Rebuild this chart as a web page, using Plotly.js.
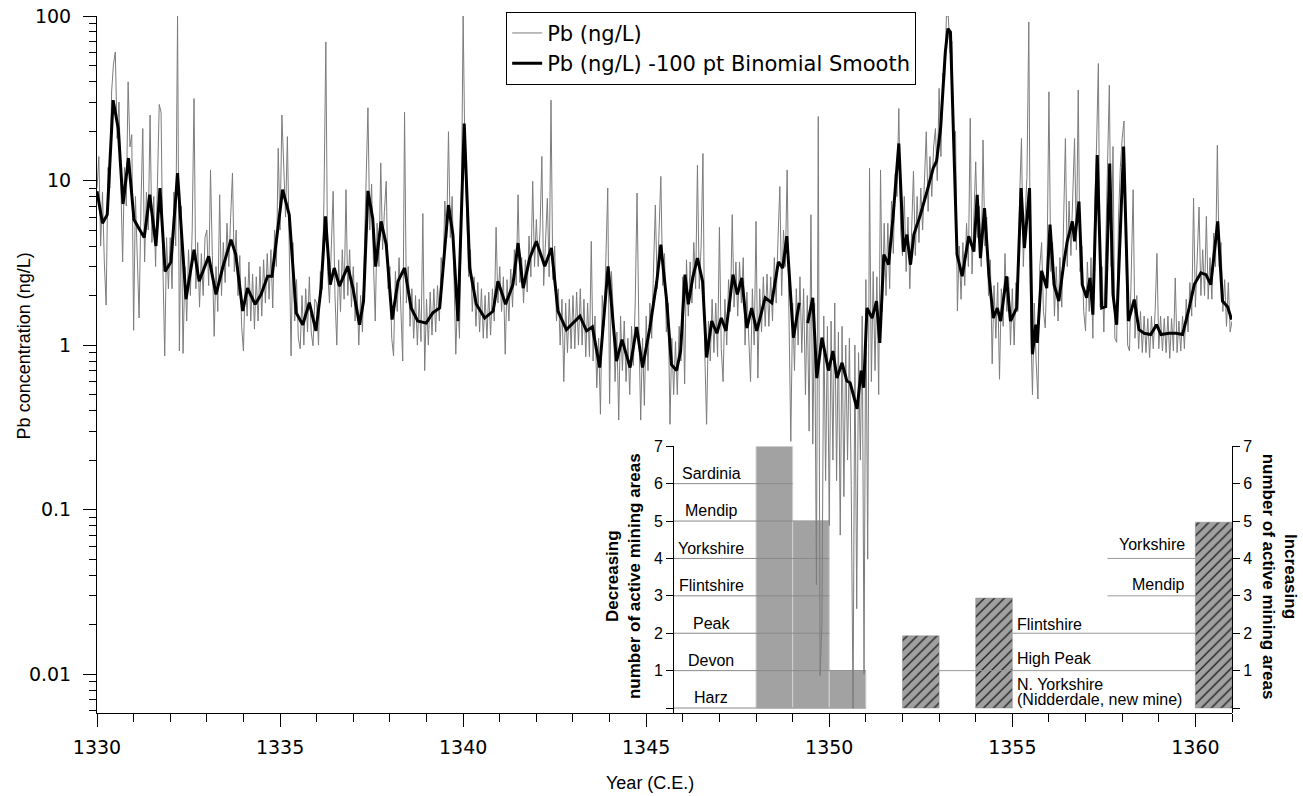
<!DOCTYPE html>
<html><head><meta charset="utf-8">
<script src="https://cdn.plot.ly/plotly-3.0.1.min.js"></script>
<style>html,body{margin:0;padding:0;background:#fff;} #chart{width:1303px;height:796px;}</style>
</head><body><div id="chart"></div>
<script>
// ---- Pb concentration, 100 pt binomial smooth ----
const smoothYears = [1330.0,1330.15,1330.28,1330.44,1330.58,1330.71,1330.86,1331.01,1331.15,1331.29,1331.44,1331.61,1331.72,1331.86,1332.02,1332.2,1332.43,1332.65,1332.79,1333.05,1333.25,1333.43,1333.66,1333.79,1333.98,1334.11,1334.32,1334.48,1334.66,1334.78,1335.07,1335.25,1335.44,1335.62,1335.8,1335.98,1336.12,1336.24,1336.37,1336.48,1336.62,1336.85,1336.99,1337.17,1337.28,1337.4,1337.53,1337.61,1337.76,1337.9,1338.06,1338.22,1338.4,1338.58,1338.76,1338.99,1339.17,1339.36,1339.6,1339.72,1339.86,1340.03,1340.18,1340.36,1340.59,1340.82,1340.95,1341.16,1341.36,1341.5,1341.64,1341.82,1342.0,1342.23,1342.41,1342.59,1342.82,1342.96,1343.19,1343.37,1343.53,1343.73,1343.96,1344.19,1344.34,1344.56,1344.74,1344.9,1345.1,1345.29,1345.4,1345.56,1345.69,1345.83,1345.94,1346.06,1346.15,1346.27,1346.4,1346.54,1346.65,1346.79,1346.93,1347.05,1347.18,1347.37,1347.49,1347.61,1347.75,1347.88,1348.02,1348.25,1348.43,1348.61,1348.73,1348.84,1349.02,1349.18,1349.28,1349.41,1349.55,1349.66,1349.8,1349.98,1350.1,1350.21,1350.35,1350.48,1350.57,1350.76,1350.87,1350.94,1351.03,1351.17,1351.29,1351.38,1351.49,1351.62,1351.74,1351.9,1352.03,1352.12,1352.22,1352.31,1352.49,1352.67,1352.84,1352.93,1353.04,1353.17,1353.24,1353.31,1353.4,1353.49,1353.63,1353.81,1353.95,1354.04,1354.13,1354.24,1354.36,1354.48,1354.59,1354.68,1354.84,1354.95,1355.12,1355.24,1355.33,1355.47,1355.55,1355.64,1355.68,1355.8,1355.94,1356.03,1356.14,1356.27,1356.41,1356.5,1356.64,1356.7,1356.82,1356.91,1357.03,1357.12,1357.2,1357.32,1357.44,1357.55,1357.66,1357.75,1357.85,1358.04,1358.17,1358.33,1358.46,1358.6,1358.78,1358.94,1359.06,1359.28,1359.47,1359.65,1359.83,1359.97,1360.15,1360.29,1360.42,1360.61,1360.74,1360.88,1360.99];
const smoothVals = [8.6,5.5,6.2,30.8,20.7,7.2,13.7,5.8,5.1,4.5,8.2,4.0,9.0,2.8,3.2,11.1,1.9,3.8,2.44,3.46,2.03,2.94,4.37,3.55,1.61,2.22,1.77,2.03,2.62,2.62,8.8,6.2,1.57,1.33,1.81,1.22,2.22,6.05,2.33,2.94,2.28,3.01,2.22,1.33,1.85,8.65,5.9,3.0,5.65,4.07,1.43,2.44,2.94,1.68,1.40,1.36,1.57,1.68,7.1,4.69,1.40,22.2,2.94,1.77,1.46,1.61,2.44,1.77,2.33,4.17,2.22,3.38,4.27,3.01,3.89,1.61,1.24,1.33,1.5,1.22,1.29,0.73,3.01,0.80,1.08,0.73,1.29,0.73,1.27,2.44,4.07,1.85,0.76,0.70,0.92,2.68,1.77,2.56,3.38,2.44,0.84,1.40,1.18,1.46,1.22,2.68,2.03,2.56,1.27,1.68,1.22,1.94,1.81,3.2,2.94,4.59,1.11,1.81,null,1.36,1.94,0.63,1.11,0.70,0.92,0.63,0.78,0.605,0.59,0.41,0.70,0.55,1.68,1.46,1.85,1.03,3.55,3.08,5.9,16.8,3.7,4.69,3.08,4.69,6.2,8.6,11.9,13.1,20.7,60.5,83.8,80,17.2,3.55,2.62,4.59,3.7,8.2,3.38,6.8,2.68,1.46,1.68,1.40,2.62,1.40,1.68,9.0,3.89,9.0,0.88,1.33,1.03,2.83,2.22,5.4,2.33,1.85,3.2,4.27,5.65,4.27,7.46,2.33,1.94,2.56,1.53,14.3,1.68,1.71,12.7,2.03,1.33,16.1,1.40,1.89,1.24,1.18,1.16,1.33,1.16,1.18,1.18,1.16,1.68,2.33,2.75,2.68,2.33,5.65,1.85,1.71,1.43];

// ---- Pb concentration, raw record (read every 0.05 yr from 1330) ----
const rawStart = 1330;
const rawStep = 0.05;
const rawVals = [
9,14,4.0,8.5,3.2,1.75,12,9,35,51,60.5,18,30,8,3.2,12,7,39.8,16,19,
1.23,8,3.6,1.46,7,20.7,3.2,8.5,5.0,25,4.2,8.0,3.0,9.5,29,26,3.0,0.86,4.5,2.2,
4.5,2.2,8.5,4.0,100,0.92,7,0.89,3.0,1.4,3.8,2.0,5.0,31.5,2.2,4.2,1.7,3.6,2.0,4.5,
5.0,2.3,11.6,3.5,1.13,3.0,1.6,8.2,2.0,4.2,2.4,5.5,3.0,6.0,11.1,2.8,5.0,2.0,3.5,1.3,
0.92,2.6,1.5,3.2,1.4,2.7,1.25,2.6,1.4,3.0,1.5,3.3,1.8,3.6,1.9,3.8,1.68,5.0,3.0,15.7,
5.0,25,12,6,18.5,4.5,0.86,4.2,1.4,2.5,1.1,0.95,2.0,1.0,2.2,1.2,2.6,1.2,0.99,1.9,
1.8,1.0,2.8,2.2,8.0,69.6,2.8,1.8,3.8,8.6,2.0,1.0,3.3,1.6,3.8,1.9,8.8,2.0,3.8,1.7,
3.0,1.4,2.4,1.0,2.0,1.2,3.6,12.8,27.7,5.0,9.5,3.2,1.4,5.5,3.0,12.8,3.8,6.5,9.9,2.2,
3.0,1.1,0.86,2.8,1.6,3.4,1.8,0.80,26,1.8,3.0,1.3,2.2,1.1,2.0,1.0,1.9,1.05,6.3,0.70,
1.9,1.0,2.1,1.15,2.2,1.2,2.3,1.4,3.4,2.6,7.5,4.5,19.8,4.5,8.0,2.5,0.88,2.1,1.1,6.5,
100,14,6,2.6,3.8,1.6,2.6,1.3,2.4,1.2,2.2,1.1,2.0,1.1,2.1,1.15,2.2,1.4,5.2,1.8,
3.0,1.6,2.6,0.88,2.5,1.4,2.9,1.7,3.8,2.3,8.2,2.4,3.4,1.8,3.3,2.1,4.6,2.6,9.9,3.0,
5.8,3.0,5.0,14,2.3,4.5,7.8,2.6,30.8,2.5,4.0,1.4,2.2,1.0,1.9,0.60,1.8,0.9,1.9,0.95,
2.0,0.95,2.1,1.0,2.2,1.0,1.9,0.85,1.8,0.85,4.27,0.8,1.5,0.55,1.1,0.38,2.0,1.3,3.8,9.0,
0.44,2.8,1.6,0.6,1.2,0.35,1.5,0.7,1.4,0.6,1.1,0.5,1.3,0.75,1.8,8.4,1.3,0.35,1.1,0.43,
1.5,0.7,1.8,1.1,2.9,7.1,2.2,5.0,10.6,2.3,3.6,1.2,1.8,0.33,1.1,0.5,1.05,0.5,1.3,0.8,
2.6,0.58,3.3,1.5,3.2,1.8,4.2,2.2,12.4,2.2,4.0,14.6,0.9,0.33,1.4,0.8,1.9,0.9,1.8,0.85,
5.2,0.95,0.60,1.9,1.0,2.5,1.6,6.2,1.7,3.2,1.5,3.2,1.8,3.4,1.0,2.1,1.0,0.60,2.2,1.0,
5.65,0.63,2.2,1.2,2.6,1.3,2.7,1.3,2.6,1.4,3.4,1.8,4.4,9.2,2.0,5.0,3.0,11.6,1.5,0.26,
1.8,0.7,2.2,1.0,2.6,0.9,2.2,0.5,2.0,0.3,6.2,0.25,1.8,0.035,24.5,0.0098,0.02,1.5,0.15,1.3,
0.08,1.4,0.2,1.8,0.15,1.2,0.07,1.3,0.12,1.0,0.2,1.1,0.14,0.0062,1.0,0.025,0.9,0.2,1.5,0.01,
2.5,0.05,11.9,0.6,2.8,0.7,2.6,0.5,11.6,1.6,5.5,2.0,5.5,2.2,7.5,3.6,11,8.0,27.4,5.0,
3.5,8.0,2.8,6.0,2.2,5.5,11.4,3.5,8.0,4.2,9.0,5.0,10.5,19.8,6.5,14,8.0,16,20.7,10,
36.3,14,45,40,100,100,60,70,12,20,1.61,4.0,1.9,4.2,2.3,5.5,3.0,23.9,2.7,6.5,
13,4.5,7.0,3.0,17.6,4.0,6.0,2.0,3.3,0.77,2.3,1.1,2.4,0.62,2.2,1.3,3.6,1.6,2.6,1.0,
2.2,1.0,2.4,1.6,8.0,18,3.0,6.0,10.6,92,1.4,0.50,1.8,0.8,0.47,3.0,4.2,1.6,1.27,3.2,
34.6,2.8,4.2,1.5,3.0,1.4,3.4,1.7,4.6,18,3.0,7.5,3.5,8.0,18,3.8,35.5,2.8,4.0,1.6,
1.22,3.2,1.6,3.4,1.1,7.0,16,51.4,1.7,3.0,1.2,4.0,12,38,3.0,16.1,1.1,1.04,6.0,12,
18,23,4.5,1.0,0.92,2.5,8.8,1.1,2.0,0.95,1.6,0.9,1.5,0.9,1.45,0.84,1.5,0.95,1.6,3.6,
0.95,1.5,0.92,1.45,0.9,1.5,0.83,1.45,0.92,2.56,0.9,1.4,0.92,1.5,0.95,1.9,1.2,2.4,1.5,7.8,
1.7,3.4,6.9,2.0,3.8,2.0,6.05,1.9,3.4,1.9,4.8,3.0,16.4,3.0,4.2,1.6,2.5,1.3,2.4,1.2,
1.4];

// ---- inset: number of active mining areas ----
const decBarStarts = [1348, 1349, 1350];
const decBarCounts = [7, 5, 1];
const incBarStarts = [1352, 1354, 1360];
const incBarCounts = [1.93, 2.94, 4.97];

const decNames  = ['Harz','Devon','Peak','Flintshire','Yorkshire','Mendip','Sardinia'];
const decLevels = [0, 1, 2, 3, 4, 5, 6];
const decLineFrom = [1345.75, 1345.75, 1345.75, 1345.75, 1345.75, 1345.75, 1345.75];
const decLineTo   = [1351, 1351, 1350, 1350, 1350, 1350, 1349];

const incNames  = ['High Peak','Flintshire','Mendip','Yorkshire'];
const incLevels = [1, 2, 3, 4];
const incLineFrom = [1353, 1355, 1357.6, 1357.6];
const incLineTo   = [1360, 1360, 1360, 1360];

// ---- axes ticks ----
const xTickVals = [1330, 1335, 1340, 1345, 1350, 1355, 1360];
const yTickVals = [0.01, 0.1, 1, 10, 100];
const yTickText = ['0.01', '0.1', '1', '10', '100'];
const insetTickVals = [0, 1, 2, 3, 4, 5, 6, 7];
const insetTickText = ['', '1', '2', '3', '4', '5', '6', '7'];

const rawYears = rawVals.map((v, i) => +(rawStart + i * rawStep).toFixed(2));
const minorLog = [];
for (let e = -3; e <= 1; e++) for (let m = 2; m <= 9; m++) {
  const v = m * Math.pow(10, e);
  if (v > 0.0058 && v < 100) minorLog.push(v);
}

function segs(from, to, lv) {
  const xs = [], ys = [];
  lv.forEach((l, i) => { xs.push(from[i], to[i], null); ys.push(l, l, null); });
  return {xs, ys};
}
const decSeg = segs(decLineFrom, decLineTo, decLevels);
const incSeg = segs(incLineFrom, incLineTo, incLevels);

const TICKF = {family: 'DejaVu Sans', size: 19, color: '#000'};
const HELV = 'Liberation Sans, Arial, sans-serif';

const traces = [
  {type: 'bar', x: decBarStarts, y: decBarCounts, width: 1, offset: 0,
   xaxis: 'x', yaxis: 'y', showlegend: false, hoverinfo: 'skip',
   marker: {color: '#a2a2a2', line: {color: '#d0d0d0', width: 1}}},
  {type: 'scatter', mode: 'lines', x: decSeg.xs, y: decSeg.ys, xaxis: 'x', yaxis: 'y',
   line: {color: '#8a8a8a', width: 1}, showlegend: false, hoverinfo: 'skip'},
  {type: 'scatter', mode: 'lines', x: incSeg.xs, y: incSeg.ys, xaxis: 'x', yaxis: 'y3',
   line: {color: '#9a9a9a', width: 1}, showlegend: false, hoverinfo: 'skip'},
  {type: 'bar', x: incBarStarts, y: incBarCounts, width: 1, offset: 0,
   xaxis: 'x', yaxis: 'y3', showlegend: false, hoverinfo: 'skip',
   marker: {color: '#a0a0a0', line: {color: '#888', width: 0.5},
            pattern: {shape: '/', fgcolor: '#1a1a1a', bgcolor: '#a0a0a0', size: 7, solidity: 0.18}}},
  {type: 'scatter', mode: 'lines', name: 'Pb (ng/L)', x: rawYears, y: rawVals,
   xaxis: 'x', yaxis: 'y2', line: {color: '#7c7c7c', width: 1}},
  {type: 'scatter', mode: 'lines', name: 'Pb (ng/L) -100 pt Binomial Smooth', x: smoothYears, y: smoothVals,
   xaxis: 'x', yaxis: 'y2', connectgaps: false, line: {color: '#000', width: 3}}
];

const annotations = [
  {text: 'Pb concentration (ng/L)', xref: 'paper', yref: 'paper', x: -0.064, y: 0.5265, textangle: -90,
   showarrow: false, xanchor: 'center', yanchor: 'middle', font: {family: HELV, size: 18, color: '#000'}},
  {text: 'Year (C.E.)', xref: 'paper', yref: 'paper', x: 0.487, y: -0.1, showarrow: false,
   xanchor: 'center', yanchor: 'middle', font: {family: HELV, size: 18, color: '#000'}},
  {text: '<b>Decreasing</b><br><b>number of active mining areas</b>', xref: 'paper', yref: 'paper',
   x: 0.464, y: 0.196, textangle: -90, showarrow: false, xanchor: 'center', yanchor: 'middle',
   font: {family: HELV, size: 17, color: '#000'}},
  {text: '<b>Increasing</b><br><b>number of active mining areas</b>', xref: 'paper', yref: 'paper',
   x: 1.042, y: 0.196, textangle: 90, showarrow: false, xanchor: 'center', yanchor: 'middle',
   font: {family: HELV, size: 17, color: '#000'}},
  {text: 'Yorkshire', xref: 'x', yref: 'y', x: 1359.77, y: 4.37, xanchor: 'right', yanchor: 'middle', showarrow: false,
   font: {family: HELV, size: 16, color: '#000'}},
  {text: 'Mendip', xref: 'x', yref: 'y', x: 1359.77, y: 3.3, xanchor: 'right', yanchor: 'middle', showarrow: false,
   font: {family: HELV, size: 16, color: '#000'}},
  {text: 'Flintshire', xref: 'x', yref: 'y', x: 1355.07, y: 2.24, xanchor: 'left', yanchor: 'middle', showarrow: false,
   font: {family: HELV, size: 16, color: '#000'}},
  {text: 'High Peak', xref: 'x', yref: 'y', x: 1355.07, y: 1.32, xanchor: 'left', yanchor: 'middle', showarrow: false,
   font: {family: HELV, size: 16, color: '#000'}},
  {text: 'N. Yorkshire', xref: 'x', yref: 'y', x: 1355.07, y: 0.62, xanchor: 'left', yanchor: 'middle', showarrow: false,
   font: {family: HELV, size: 16, color: '#000'}},
  {text: '(Nidderdale, new mine)', xref: 'x', yref: 'y', x: 1355.07, y: 0.24, xanchor: 'left', yanchor: 'middle', showarrow: false,
   font: {family: HELV, size: 16, color: '#000'}}
];
decNames.forEach((n, i) => annotations.push({
  text: n, xref: 'x', yref: 'y', x: 1346.78, y: decLevels[i] + 0.27, xanchor: 'center', yanchor: 'middle',
  showarrow: false, font: {family: HELV, size: 16, color: '#000'}}));

const insetAxisCommon = {
  range: [-0.133, 7], showgrid: false, zeroline: false, showline: true, linecolor: '#000', linewidth: 1,
  ticks: 'outside', ticklen: 7, tickcolor: '#000', tickwidth: 1,
  tickmode: 'array', tickvals: insetTickVals, ticktext: insetTickText,
  tickfont: {family: HELV, size: 16, color: '#000'}, fixedrange: true, automargin: false
};

const layout = {
  width: 1303, height: 796,
  margin: {l: 97, r: 71, t: 14, b: 83},
  paper_bgcolor: '#fff', plot_bgcolor: 'rgba(0,0,0,0)',
  showlegend: true, barmode: 'overlay',
  legend: {x: 0.3605, y: 1.006, xanchor: 'left', yanchor: 'top', bgcolor: '#fff',
           bordercolor: '#000', borderwidth: 1, font: {family: 'DejaVu Sans', size: 21, color: '#000'},
           tracegroupgap: 0},
  xaxis: {range: [1330, 1361], anchor: 'y2', showgrid: false, zeroline: false, showline: true,
          linecolor: '#000', linewidth: 1, ticks: 'outside', ticklen: 13, tickcolor: '#000',
          tickmode: 'array', tickvals: xTickVals, tickfont: TICKF, automargin: false, ticklabelstandoff: 4,
          minor: {tickmode: 'linear', tick0: 1330, dtick: 1, ticks: 'outside', ticklen: 8, tickcolor: '#000'}},
  yaxis: Object.assign({domain: [0, 0.3827], anchor: 'free', position: 0.5075, side: 'left'}, insetAxisCommon),
  yaxis3: Object.assign({overlaying: 'y', anchor: 'x', side: 'right'}, insetAxisCommon),
  yaxis2: {type: 'log', range: [-2.236, 2], domain: [0, 1], anchor: 'x', side: 'left',
           showgrid: false, zeroline: false, showline: true, linecolor: '#000', linewidth: 1,
           ticks: 'outside', ticklen: 13, tickcolor: '#000', tickmode: 'array',
           tickvals: yTickVals, ticktext: yTickText, tickfont: TICKF, automargin: false, ticklabelstandoff: 8,
           minor: {tickmode: 'array', tickvals: minorLog, ticks: 'outside', ticklen: 7, tickcolor: '#000'}},
  annotations: annotations
};

Plotly.newPlot('chart', traces, layout, {displayModeBar: false, staticPlot: true});
</script>
</body></html>
